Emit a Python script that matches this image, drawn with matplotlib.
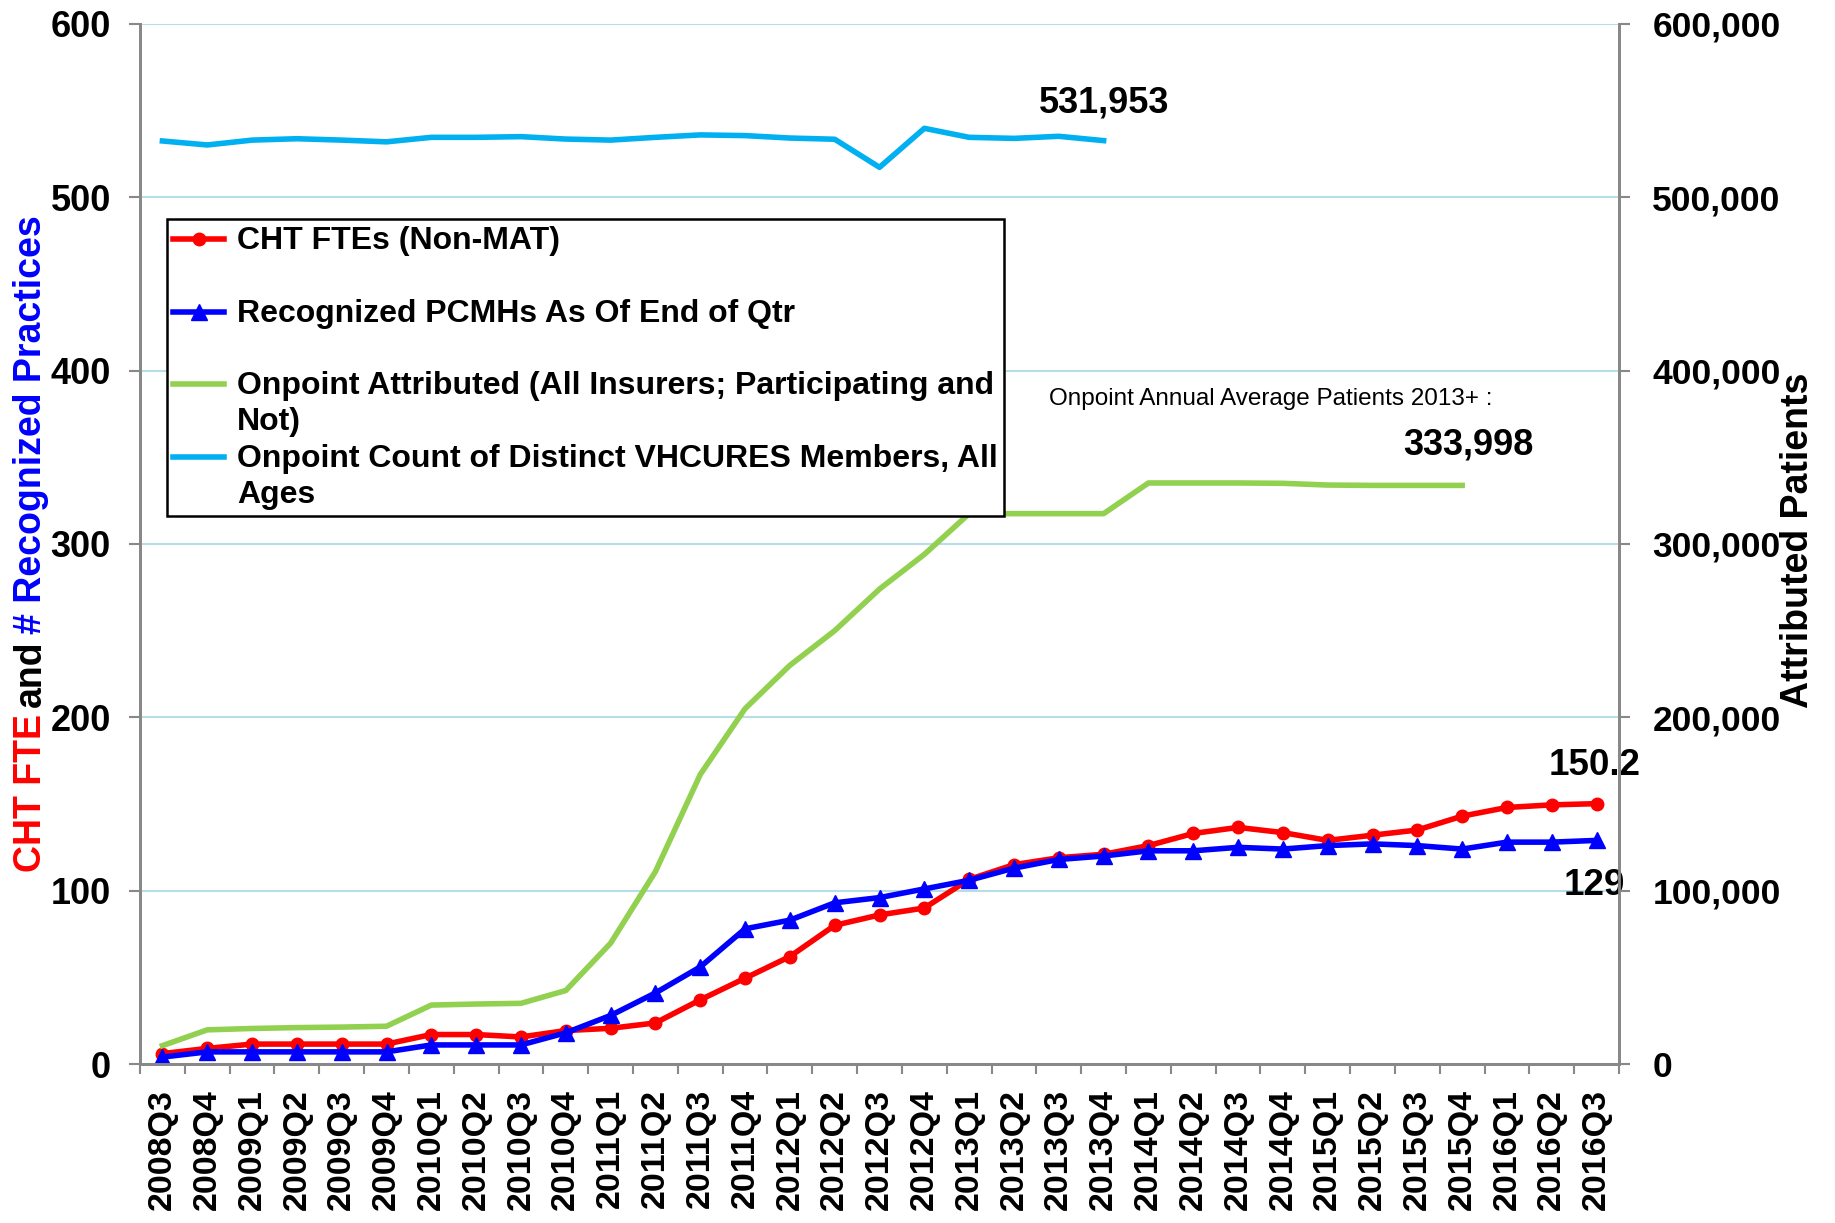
import matplotlib
matplotlib.use('Agg')
import matplotlib.pyplot as plt
import numpy as np
from matplotlib.legend_handler import HandlerLine2D
from matplotlib.ticker import FuncFormatter, FixedLocator

plt.rcParams['font.family'] = ['Liberation Sans', 'DejaVu Sans']

quarters = ['2008Q3', '2008Q4', '2009Q1', '2009Q2', '2009Q3', '2009Q4', '2010Q1', '2010Q2', '2010Q3',
            '2010Q4', '2011Q1', '2011Q2', '2011Q3', '2011Q4', '2012Q1', '2012Q2', '2012Q3', '2012Q4',
            '2013Q1', '2013Q2', '2013Q3', '2013Q4', '2014Q1', '2014Q2', '2014Q3', '2014Q4', '2015Q1',
            '2015Q2', '2015Q3', '2015Q4', '2016Q1', '2016Q2', '2016Q3']

cht_fte = [6, 9, 11.5, 11.5, 11.5, 11.5, 17, 17, 15.6, 19.3, 20.6, 23.7, 37, 49.5, 62, 80, 86, 90,
           106.5, 115, 119, 121, 126, 133, 136.5, 133.5, 129, 132, 135, 143, 148, 149.5, 150.2]

pcmh = [4, 7, 7, 7, 7, 7, 11, 11, 11, 18, 28, 41, 56, 78, 83, 93, 96, 101,
        106, 113, 118, 120, 123, 123, 125, 124, 126, 127, 126, 124, 128, 128, 129]

# these two stop before 2016
attributed = [10600, 19700, 20500, 21000, 21300, 21800, 34000, 34600, 35000, 42400, 69700, 111000,
              167000, 205000, 230000, 250000, 274000, 294000, 317500, 317500, 317500, 317500,
              335200, 335200, 335200, 335000, 334000, 333800, 333800, 333800]

vhcures = [532500, 530200, 533000, 533800, 533000, 532000, 534600, 534600, 535000, 533600, 533000,
           534600, 536000, 535600, 534200, 533500, 517300, 539800, 534600, 534000, 535200, 532700]

series_labels = ['CHT FTEs (Non-MAT)', 'Recognized PCMHs As Of End of Qtr',
                 'Onpoint Attributed (All Insurers; Participating and\nNot)',
                 'Onpoint Count of Distinct VHCURES Members, All\nAges']

grey = '#888888'
grid_col = '#B7DEE8'


class TopLineHandler(HandlerLine2D):
    # put the legend sample on the first text line, like excel does
    def __init__(self, shift, **kw):
        super().__init__(**kw)
        self.shift = shift

    def create_artists(self, legend, orig_handle, xdescent, ydescent, width, height, fontsize, trans):
        arts = super().create_artists(legend, orig_handle, xdescent, ydescent, width, height, fontsize, trans)
        for a in arts:
            a.set_ydata(np.asarray(a.get_ydata()) + self.shift)
        return arts


fig = plt.figure(figsize=(18.35, 12.23), dpi=100)
ax = fig.add_axes([0.0763, 0.13, 0.806, 0.8504])
ax2 = ax.twinx()

x = np.arange(len(quarters))
l1, = ax.plot(x, cht_fte, color='#FF0000', lw=4, marker='o', ms=9, label=series_labels[0])
l2, = ax.plot(x, pcmh, color='#0000FF', lw=4, marker='^', ms=11, label=series_labels[1])
l3, = ax2.plot(np.arange(len(attributed)), attributed, color='#92D050', lw=4, label=series_labels[2])
l4, = ax2.plot(np.arange(len(vhcures)), vhcures, color='#00B0F0', lw=4, label=series_labels[3])

ax.set_xlim(-0.5, len(quarters) - 0.5)
ax.set_ylim(0, 600)
ax2.set_ylim(0, 600000)
ax.set_yticks(np.arange(0, 601, 100))
ax2.set_yticks(np.arange(0, 600001, 100000))
ax2.yaxis.set_major_formatter(FuncFormatter(lambda v, p: f'{v:,.0f}'))

ax.set_xticks(x)
ax.set_xticklabels(quarters, rotation=90, fontsize=24.5, fontweight='bold')
ax.xaxis.set_minor_locator(FixedLocator(np.arange(-0.5, len(quarters), 1.0)))
ax.tick_params(axis='x', which='major', length=0, pad=18)
ax.tick_params(axis='x', which='minor', length=7, width=1.5, color=grey)
ax.tick_params(axis='y', length=8, width=1.5, color=grey, pad=13, labelsize=26)
ax2.tick_params(axis='y', length=8, width=1.5, color=grey, pad=16, labelsize=25.5)
for lab in ax.get_yticklabels() + ax2.get_yticklabels():
    lab.set_fontweight('bold')

ax.yaxis.grid(True, color=grid_col, lw=1.5)
ax.set_axisbelow(True)
for a in (ax, ax2):
    a.spines['top'].set_visible(False)
    for s in ('left', 'right', 'bottom'):
        a.spines[s].set_color(grey)
        a.spines[s].set_linewidth(2)

# value callouts
ax2.text(21, 554500, '531,953', fontsize=26, fontweight='bold', ha='center', va='center')
ax2.text(29.13, 357000, '333,998', fontsize=26, fontweight='bold', ha='center', va='center')
ax2.text(24.74, 383700, 'Onpoint Annual Average Patients 2013+ :', fontsize=17.5, ha='center', va='center')
ax.text(31.96, 172, '150.2', fontsize=26.5, fontweight='bold', ha='center', va='center')
ax.text(31.94, 103, '129', fontsize=26.5, fontweight='bold', ha='center', va='center')

labels_leg = [series_labels[0] + '\n', series_labels[1] + '\n', series_labels[2], series_labels[3]]
leg = ax2.legend([l1, l2, l3, l4], labels_leg, loc='upper left', bbox_to_anchor=(0.018, 0.812),
                 borderaxespad=0, fancybox=False, edgecolor='black', framealpha=1,
                 prop={'size': 23, 'weight': 'bold'}, handlelength=1.6, handletextpad=0.4,
                 labelspacing=0.22, borderpad=0.2, numpoints=1,
                 handler_map={l: TopLineHandler(14.5) for l in (l1, l2, l3, l4)})
leg.get_frame().set_linewidth(1.8)
for t in leg.get_texts():
    t.set_linespacing(1.25)

# axis titles; left one has three colours, so it is built from pieces
ren = fig.canvas.get_renderer()
ypos = 1 - 872 / 1223
for txt, col in [('CHT FTE', '#FF0000'), ('and', 'black'), ('# Recognized Practices', '#0000FF')]:
    t = fig.text(0.017, ypos, txt, rotation=90, color=col, fontsize=27, fontweight='bold',
                 ha='center', va='bottom')
    bb = t.get_window_extent(renderer=ren)
    ypos = (bb.y1 + 7) / fig.bbox.height

fig.text(0.980, 0.558, 'Attributed Patients', rotation=90, fontsize=27, fontweight='bold',
         ha='center', va='center')

fig.savefig('out.png', dpi=100)
